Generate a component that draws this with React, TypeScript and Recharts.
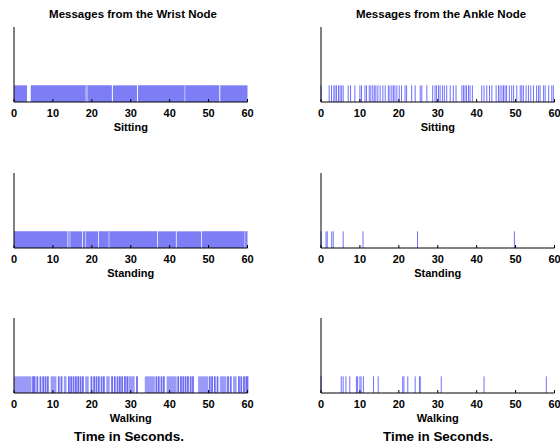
import React from 'react';
import { ComposedChart, XAxis, YAxis, ReferenceLine, ReferenceArea, Label } from 'recharts';

const xTicks = [0, 10, 20, 30, 40, 50, 60];
const columnTitles = ['Messages from the Wrist Node', 'Messages from the Ankle Node'];
const activityLabels = ['Sitting', 'Standing', 'Walking'];
const bottomTitle = 'Time in Seconds.';

// Wrist node: message streams are so dense they read as continuous runs [start, end] in seconds
const wristSittingRuns: [number, number][] = [[0, 3.35], [4.3, 25.15], [25.4, 31.6], [31.85, 52.75], [53.0, 60]];
const wristSittingFaint = [18.5, 18.8, 43.9];
const wristStandingRuns: [number, number][] = [[0, 13.75], [13.95, 17.5], [17.7, 21.6], [21.8, 36.8], [37.0, 41.6], [41.8, 48.1], [48.3, 60]];
const wristStandingFaint = [14.4, 18.4, 24.4, 59.3];
const wristWalkingRuns: [number, number][] = [[0, 4.5], [9.4, 10.9], [12.8, 13.5], [18.3, 19.2], [23.7, 24.6], [29.4, 31.0], [33.6, 36.2], [39.2, 41.8], [47.3, 49.9], [52.9, 54.6], [56.3, 57.2]];
const wristWalkingEvents = [4.9, 5.3, 6.0, 6.8, 7.5, 8.1, 8.7, 11.5, 12.2, 14.1, 14.7, 15.3, 15.9, 16.5, 17.1, 17.7, 19.9, 20.6, 21.2, 21.8, 22.5, 23.1, 25.2, 25.9, 26.6, 27.2, 27.8, 28.5, 29.1, 31.6, 36.6, 37.2, 37.9, 38.5, 42.2, 42.9, 43.5, 44.1, 44.7, 45.4, 46.0, 50.3, 50.9, 51.6, 52.3, 55.0, 55.7, 57.8, 58.4, 59.1, 59.7, 60.0];

// Ankle node: individual message times in seconds
const ankleSittingEvents = [0, 2.1, 2.7, 3.3, 3.6, 4.0, 4.5, 4.9, 5.3, 5.7, 7.0, 7.6, 8.7, 10.0, 10.4, 11.3, 11.7, 12.4, 12.8, 13.3, 13.7, 14.1, 14.6, 15.2, 15.9, 16.5, 17.3, 17.7, 18.2, 18.6, 19.0, 19.5, 20.1, 20.7, 21.6, 22.0, 23.3, 24.2, 25.5, 25.9, 27.2, 28.7, 29.3, 29.7, 30.2, 30.6, 31.2, 31.7, 32.3, 33.2, 34.0, 34.7, 36.2, 36.6, 37.0, 37.4, 37.9, 38.3, 38.9, 41.3, 41.9, 42.6, 43.3, 43.9, 45.0, 45.6, 46.0, 46.5, 46.9, 47.3, 47.7, 48.4, 49.0, 49.5, 50.3, 51.2, 51.6, 52.0, 52.7, 53.3, 53.9, 54.6, 55.4, 55.9, 56.3, 57.2, 57.6, 58.5, 59.3, 59.7];
const ankleStandingEvents = [0, 1.3, 1.6, 2.75, 3.15, 5.7, 10.8, 24.8, 49.7];
const ankleWalkingEvents = [0, 5.2, 5.7, 6.4, 7.4, 9.1, 9.4, 10.0, 10.3, 10.9, 13.5, 14.7, 21.0, 21.3, 22.3, 24.2, 25.3, 25.5, 30.9, 41.9, 57.9];

const FONT = '"Liberation Sans", Arial, Helvetica, sans-serif';
const tickStyle = { fontSize: 11, fontWeight: 700, fill: '#000', fontFamily: FONT };

type PanelProps = {
  left: number;
  top: number;
  label: string;
  runs?: [number, number][];
  runFill?: string;
  faint?: number[];
  events?: number[];
  eventStroke?: string;
  eventWidth?: number;
};

function Panel({ left, top, label, runs = [], runFill = '#7d7df5', faint = [], events = [], eventStroke = '#7070ff', eventWidth = 1 }: PanelProps) {
  return (
    <div style={{ position: 'absolute', left, top }}>
      <ComposedChart width={260} height={140} margin={{ top: 27, right: 12.5, left: 12, bottom: 0 }} data={[]}>
        <XAxis
          type="number"
          dataKey="t"
          domain={[0, 60]}
          ticks={xTicks}
          interval={0}
          allowDataOverflow
          tickSize={-3}
          tickMargin={10.5}
          height={38}
          axisLine={{ stroke: '#000', strokeWidth: 1 }}
          tickLine={{ stroke: '#000' }}
          tick={tickStyle}
        >
          <Label value={label} position="insideTop" offset={21} style={{ fontSize: 11, fontWeight: 700, fill: '#000', fontFamily: FONT }} />
        </XAxis>
        <YAxis type="number" domain={[0, 4.5]} width={2} tick={false} tickLine={false} axisLine={{ stroke: '#000', strokeWidth: 1 }} allowDataOverflow />
        {runs.map(([a, b], i) => (
          <ReferenceArea key={'r' + i} x1={a} x2={b} y1={0} y2={1} fill={runFill} fillOpacity={1} stroke="none" ifOverflow="visible" />
        ))}
        {faint.map((t, i) => (
          <ReferenceLine key={'f' + i} segment={[{ x: t, y: 0 }, { x: t, y: 1 }]} stroke="#c4c4fb" strokeWidth={1} ifOverflow="visible" />
        ))}
        {events.map((t, i) => (
          <ReferenceLine key={'e' + i} segment={[{ x: t, y: 0 }, { x: t, y: 1 }]} stroke={eventStroke} strokeWidth={eventWidth} ifOverflow="visible" />
        ))}
      </ComposedChart>
    </div>
  );
}

export default function App() {
  const rowTops = [0, 146, 291];
  const colLefts = [0, 307];
  return (
    <div style={{ position: 'absolute', left: 0, top: 0, width: 560, height: 444, overflow: 'hidden', background: '#fff' }}>
      <Panel left={colLefts[0]} top={rowTops[0]} label={activityLabels[0]} runs={wristSittingRuns} faint={wristSittingFaint} />
      <Panel left={colLefts[0]} top={rowTops[1]} label={activityLabels[1]} runs={wristStandingRuns} faint={wristStandingFaint} />
      <Panel left={colLefts[0]} top={rowTops[2]} label={activityLabels[2]} runs={wristWalkingRuns} runFill="#9a9af8" events={wristWalkingEvents} eventStroke="#6c6cf4" eventWidth={1.8} />
      <Panel left={colLefts[1]} top={rowTops[0]} label={activityLabels[0]} events={ankleSittingEvents} />
      <Panel left={colLefts[1]} top={rowTops[1]} label={activityLabels[1]} events={ankleStandingEvents} />
      <Panel left={colLefts[1]} top={rowTops[2]} label={activityLabels[2]} events={ankleWalkingEvents} />
      <svg width={560} height={444} style={{ position: 'absolute', left: 0, top: 0, pointerEvents: 'none' }}>
        <text x={133} y={18} textAnchor="middle" fontSize={11.5} fontWeight={700} fontFamily={FONT} fill="#000">{columnTitles[0]}</text>
        <text x={441} y={18} textAnchor="middle" fontSize={11.5} fontWeight={700} fontFamily={FONT} fill="#000">{columnTitles[1]}</text>
        <text x={129} y={440.5} textAnchor="middle" fontSize={13.4} fontWeight={700} fontFamily={FONT} fill="#000">{bottomTitle}</text>
        <text x={438} y={440.5} textAnchor="middle" fontSize={13.4} fontWeight={700} fontFamily={FONT} fill="#000">{bottomTitle}</text>
      </svg>
    </div>
  );
}
